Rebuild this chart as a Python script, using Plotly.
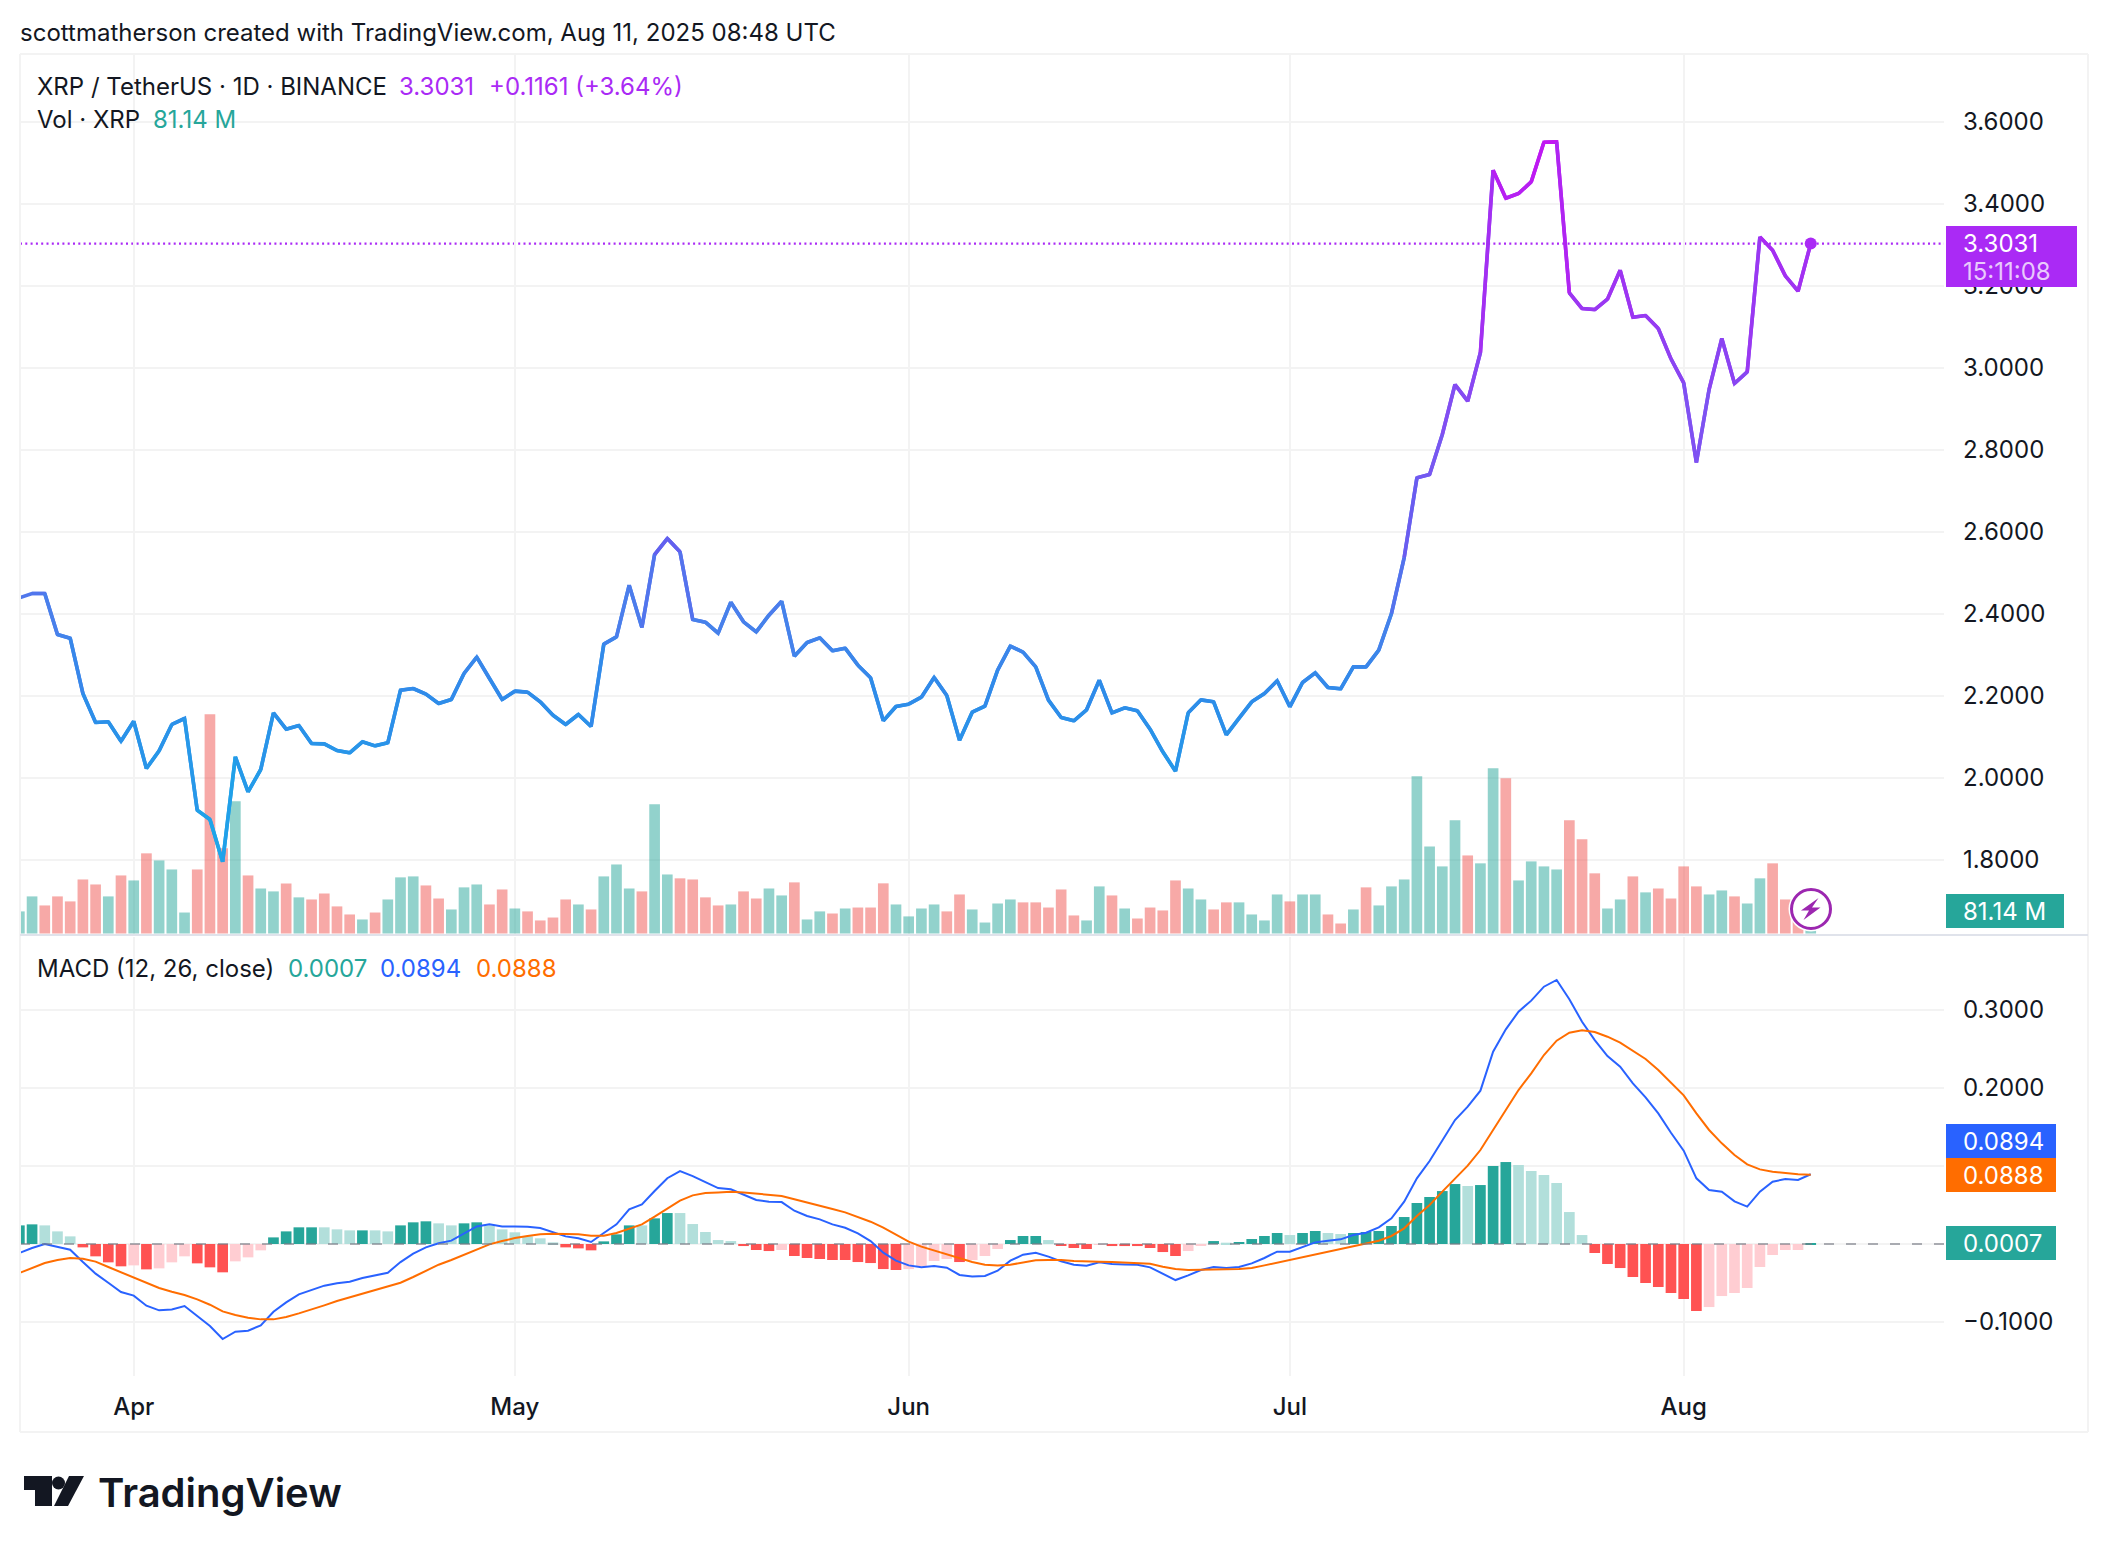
import numpy as np
import pandas as pd
import plotly.graph_objects as go

W = 2108
H = 1552
FONT = "Inter"
INK = "#131722"
GRID = "#f3f3f3"
TEAL = "#26a69a"
PURPLE = "#aa2af5"
BLUE = "#2962ff"
ORANGE = "#ff6d00"

dates = pd.date_range("2025-03-23", "2025-08-11")

# daily close, one row per month
close = [
    2.439, 2.4496, 2.4496, 2.3496, 2.3407, 2.2057, 2.135, 2.1366, 2.0894,
    2.1382, 2.0228, 2.0659, 2.1301, 2.1447, 1.9211, 1.8984, 1.7951, 2.0512, 1.9659,
    2.0203, 2.1585, 2.1187, 2.1276, 2.0837, 2.0829, 2.0667, 2.061, 2.0878, 2.078,
    2.0854, 2.2138, 2.2179, 2.2041, 2.1813, 2.1911, 2.2545, 2.2943, 2.2423, 2.1911,
    2.2114, 2.209, 2.1854, 2.1528, 2.1301, 2.1545, 2.1252, 2.326, 2.3439, 2.4699,
    2.3667, 2.5447, 2.5837, 2.5512, 2.3862, 2.3797, 2.3528, 2.4285, 2.3805, 2.3561,
    2.3967, 2.4309, 2.2967, 2.3301, 2.3415, 2.3098, 2.3163, 2.2748, 2.2439, 2.139,
    2.174,
    2.1797, 2.1967, 2.2447, 2.2008, 2.0919, 2.1602, 2.1748, 2.2626, 2.3211, 2.3065,
    2.2707, 2.1894, 2.1472, 2.139, 2.1659, 2.2382, 2.1585, 2.1707, 2.1634, 2.1187,
    2.0634, 2.0163, 2.1585, 2.1902, 2.1854, 2.1049, 2.1455, 2.1854, 2.2057, 2.2366,
    2.1732, 2.2325, 2.2561, 2.2203, 2.2171, 2.2707, 2.2707, 2.3114, 2.4008, 2.5373,
    2.7317, 2.7398, 2.8374, 2.9593, 2.9187, 3.0374, 3.4821, 3.4138, 3.4252, 3.4537,
    3.5504, 3.5512, 3.1829, 3.1447, 3.1423, 3.1675, 3.2382, 3.1236, 3.1276, 3.0959,
    3.022,
    2.9634, 2.7691, 2.9472, 3.0715, 2.9618, 2.9902, 3.3195, 3.287, 3.2244, 3.187, 3.3031,
]

# volume in millions
volume = [
    137, 230, 174, 230, 199, 335, 304, 230, 360,
    329, 497, 453, 397, 130, 397, 1360, 528, 820, 360,
    279, 261, 310, 224, 211, 248, 168, 118, 87, 130,
    211, 348, 354, 298, 217, 149, 286, 304, 180, 273,
    155, 137, 81, 99, 211, 180, 149, 354, 428, 279,
    261, 801, 366, 342, 335, 224, 174, 180, 261, 217,
    279, 236, 317, 87, 137, 124, 155, 161, 161, 311,
    180,
    106, 155, 180, 137, 242, 149, 68, 186, 211, 193,
    193, 161, 273, 112, 81, 292, 236, 155, 93, 161,
    143, 329, 279, 211, 149, 193, 193, 118, 81, 242,
    199, 242, 242, 118, 62, 149, 286, 174, 292, 335,
    975, 540, 416, 702, 484, 435, 1025, 963, 329, 447,
    416, 397, 702, 584, 373, 155, 211, 354, 255, 279,
    217,
    416, 292, 242, 267, 230, 186, 342, 435, 211, 120, 81.14,
]
volume_dir = (
    "TTRRRRRTR"
    "TRTTTRRRTRTTRTRRRRTRTTTRRTTTRR"
    "TRRRRTRTTTRTTRRRRTRRTTRTTRTRRRT"
    "TTTRRTTTTRRRRRTTRTRRRRTTRRTTTT"
    "RTTRRTRTTTTTTTRTTRTTTTRRRTTRTRR"
    "RRTTRTTRRRT"
)

macd = [
    -0.0115, -0.0051, 0.0, -0.0034, -0.0073, -0.0231, -0.038, -0.0496, -0.0615,
    -0.0662, -0.0791, -0.085, -0.0838, -0.0795, -0.0923, -0.1051, -0.1218, -0.1124, -0.1111,
    -0.1043, -0.0868, -0.0748, -0.0645, -0.059, -0.0534, -0.0504, -0.0483, -0.0436, -0.0402,
    -0.0368, -0.0231, -0.0124, -0.0043, 0.0009, 0.0043, 0.0132, 0.0226, 0.0252, 0.0226,
    0.0226, 0.0222, 0.0205, 0.0154, 0.0098, 0.0073, 0.0026, 0.0141, 0.0252, 0.0444,
    0.0509, 0.0679, 0.0844, 0.0936, 0.087, 0.0793, 0.0717, 0.0702, 0.0628, 0.0564,
    0.0543, 0.0538, 0.0427, 0.0359, 0.0316, 0.0252, 0.0209, 0.0137, 0.0038, -0.0111,
    -0.0214,
    -0.0274, -0.0299, -0.0282, -0.0303, -0.0397, -0.0415, -0.041, -0.0342, -0.0214, -0.0137,
    -0.0111, -0.0162, -0.0222, -0.0265, -0.0278, -0.0235, -0.0256, -0.0261, -0.0265, -0.0299,
    -0.0376, -0.0462, -0.0402, -0.0333, -0.0295, -0.0308, -0.0295, -0.0248, -0.0179, -0.0098,
    -0.0098, -0.0034, 0.0021, 0.0043, 0.006, 0.0115, 0.0145, 0.0214, 0.0329, 0.0543,
    0.0842, 0.1064, 0.1321, 0.159, 0.1761, 0.1966, 0.2466, 0.2752, 0.2979, 0.312,
    0.3299, 0.3385, 0.3137, 0.285, 0.2615, 0.241, 0.2274, 0.206, 0.188, 0.1675,
    0.1427,
    0.1197, 0.0842, 0.0692, 0.0671, 0.0547, 0.0479, 0.0671, 0.0799, 0.0833, 0.0821, 0.0894,
]

signal = [
    -0.0372, -0.0303, -0.0244, -0.0205, -0.0179, -0.0188, -0.0226, -0.0295, -0.0363,
    -0.0423, -0.0496, -0.0564, -0.0611, -0.0654, -0.0709, -0.0778, -0.0863, -0.091, -0.0944,
    -0.0966, -0.0966, -0.0936, -0.0889, -0.0842, -0.0786, -0.0731, -0.0684, -0.0641, -0.0594,
    -0.0551, -0.0496, -0.0423, -0.0342, -0.0265, -0.0205, -0.0137, -0.0064, -0.0004, 0.0038,
    0.0077, 0.0103, 0.0124, 0.0132, 0.0132, 0.0124, 0.0107, 0.0107, 0.0141, 0.0197,
    0.0252, 0.035, 0.0457, 0.0556, 0.0624, 0.0654, 0.0662, 0.0671, 0.0662, 0.0645,
    0.0628, 0.0615, 0.0573, 0.0534, 0.0496, 0.0449, 0.0406, 0.035, 0.0286, 0.0209,
    0.0115,
    0.003, -0.0034, -0.0085, -0.0132, -0.0179, -0.0231, -0.0265, -0.0274, -0.0265, -0.0235,
    -0.0209, -0.0205, -0.0205, -0.0218, -0.0226, -0.0226, -0.0231, -0.0235, -0.0239, -0.0252,
    -0.0291, -0.0321, -0.0333, -0.0333, -0.0325, -0.0325, -0.0321, -0.0308, -0.0274, -0.0239,
    -0.0209, -0.0175, -0.0137, -0.0103, -0.0068, -0.0034, 0.0004, 0.0043, 0.0103, 0.0201,
    0.0359, 0.05, 0.0671, 0.0842, 0.1004, 0.1205, 0.147, 0.1718, 0.1974, 0.2188,
    0.2423, 0.2607, 0.2709, 0.2739, 0.2718, 0.2658, 0.2581, 0.2479, 0.2372, 0.2231,
    0.2068,
    0.1906, 0.1675, 0.1462, 0.1291, 0.1141, 0.1021, 0.0957, 0.0927, 0.091, 0.0893, 0.0888,
]

hist = [
    0.0239, 0.0252, 0.0239, 0.0162, 0.0098, -0.0043, -0.0158, -0.0235, -0.0286,
    -0.0274, -0.0325, -0.0312, -0.0235, -0.0158, -0.0248, -0.0299, -0.0363, -0.0222, -0.0171,
    -0.0081, 0.0085, 0.0162, 0.0214, 0.0214, 0.0214, 0.0188, 0.0175, 0.0175, 0.0175,
    0.0162, 0.0239, 0.0278, 0.0291, 0.0265, 0.0239, 0.0265, 0.0278, 0.0239, 0.0188,
    0.015, 0.0098, 0.0073, 0.0021, -0.0043, -0.0056, -0.0081, 0.0034, 0.0124, 0.0239,
    0.0239, 0.0329, 0.0397, 0.0397, 0.0256, 0.0154, 0.0051, 0.0038, -0.0026, -0.0077,
    -0.009, -0.0077, -0.0154, -0.0179, -0.0192, -0.0205, -0.0205, -0.0231, -0.0244, -0.0321,
    -0.0333,
    -0.0321, -0.0282, -0.0218, -0.0192, -0.0231, -0.0205, -0.0154, -0.0064, 0.0051, 0.0103,
    0.0103, 0.0051, -0.0013, -0.0051, -0.0064, -0.0009, -0.0026, -0.0026, -0.0026, -0.0051,
    -0.0103, -0.0154, -0.009, -0.0013, 0.0038, 0.0017, 0.0026, 0.0064, 0.0103, 0.0141,
    0.0115, 0.0141, 0.0167, 0.0141, 0.0128, 0.0141, 0.0154, 0.0167, 0.0231, 0.0346,
    0.0526, 0.0603, 0.0679, 0.0769, 0.0744, 0.0756, 0.1, 0.1051, 0.1013, 0.0936,
    0.0885, 0.0782, 0.041, 0.0115, -0.0115, -0.0256, -0.0308, -0.0423, -0.05, -0.0551,
    -0.0628,
    -0.0705, -0.0859, -0.0808, -0.0667, -0.0628, -0.0564, -0.0295, -0.0141, -0.0077, -0.0077, 0.0007,
]
# G growing, L falling above zero, R falling, P rising below zero
hist_kind = (
    "GGLLLRRRR"
    "PRPPPRRRPPPGGGGLLLGLLGGGLLGGLL"
    "LLLLRRRGGGLGGLLLLLRRRPRRRRRRRRR"
    "PPPPRPPPGGGLRRRPRRRRRRPPGLGGGG"
    "LGGLLGGGGGGGGGLGGGLLLLLLRRRRRRR"
    "RRPPPPPPPPG"
)

price_ticks = [1.8, 2.0, 2.2, 2.4, 2.6, 2.8, 3.0, 3.2, 3.4, 3.6]
macd_ticks = [-0.1, 0.0, 0.1, 0.2, 0.3]
# the 0 and 0.1 labels are replaced by the value tags
macd_tick_text = ["\u22120.1000", "", "", "0.2000", "0.3000"]

assert len(dates) == len(close) == len(volume) == len(volume_dir) == len(macd) == len(signal) == len(hist) == len(hist_kind)

VOL_COLORS = {"T": "rgba(38,166,154,0.5)", "R": "rgba(239,83,80,0.5)"}
HIST_COLORS = {"G": TEAL, "L": "#b2dfdb", "R": "#ff5252", "P": "#ffcdd2"}


def fx(px):
    return px / W


def fy(py):
    return 1 - py / H


# colour of the price line follows the price
grad_p = [1.8, 2.2, 2.4, 2.58, 2.8, 3.0, 3.3, 3.55]
grad_rgb = [(28, 169, 233), (47, 140, 234), (74, 128, 236), (101, 94, 240),
            (122, 88, 242), (139, 69, 242), (169, 44, 243), (195, 21, 242)]


def price_color(p):
    rgb = [int(np.interp(p, grad_p, [c[i] for c in grad_rgb])) for i in range(3)]
    return "rgb(%d,%d,%d)" % tuple(rgb)


fig = go.Figure()

fig.add_trace(go.Bar(x=dates, y=volume, marker=dict(color=[VOL_COLORS[k] for k in volume_dir], line_width=0),
                     xaxis="x", yaxis="y"))

for i in range(1, len(close)):
    fig.add_trace(go.Scatter(x=dates[i - 1:i + 2], y=close[i - 1:i + 2], mode="lines",
                             line=dict(color=price_color((close[i - 1] + close[i]) / 2), width=3.6),
                             xaxis="x", yaxis="y2"))

fig.add_trace(go.Scatter(x=dates[-1:], y=close[-1:], mode="markers", marker=dict(color=PURPLE, size=12),
                         xaxis="x", yaxis="y2"))

fig.add_trace(go.Bar(x=dates, y=hist, marker=dict(color=[HIST_COLORS[k] for k in hist_kind], line_width=0),
                     xaxis="x2", yaxis="y3"))
fig.add_trace(go.Scatter(x=dates, y=macd, mode="lines", line=dict(color=BLUE, width=2), xaxis="x2", yaxis="y3"))
fig.add_trace(go.Scatter(x=dates, y=signal, mode="lines", line=dict(color=ORANGE, width=2), xaxis="x2", yaxis="y3"))

x_common = dict(
    domain=[fx(20), fx(1944)], range=["2025-03-23 01:12", "2025-08-21 11:45"], type="date",
    dtick="M1", tick0="2025-04-01", tickformat="%b", showgrid=True, gridcolor=GRID, gridwidth=2,
    zeroline=False, showline=False, ticks="",
)

fig.update_layout(
    width=W, height=H, margin=dict(l=0, r=0, t=0, b=0), paper_bgcolor="white", plot_bgcolor="white",
    showlegend=False, bargap=0.16, barmode="overlay", font=dict(family=FONT, color=INK, size=24),
    xaxis=dict(anchor="y", showticklabels=False, **x_common),
    xaxis2=dict(anchor="y3", matches="x", showticklabels=True, ticklabelstandoff=14,
                tickfont=dict(size=24, color=INK, family=FONT, weight=500), **x_common),
    # volume sits on the main axis so the price overlay is painted above it
    yaxis=dict(domain=[fy(935), fy(54)], range=[-9.3, 5453], visible=False, showgrid=False, zeroline=False, fixedrange=True),
    yaxis2=dict(overlaying="y", anchor="x", side="right", range=[1.6166, 3.7656], tickvals=price_ticks, tickformat=".4f",
                showgrid=True, gridcolor=GRID, gridwidth=2, zeroline=False, ticks="", ticklabelstandoff=18,
                tickfont=dict(size=24, color=INK, family=FONT)),
    yaxis3=dict(domain=[fy(1376), fy(937)], anchor="x2", side="right", range=[-0.1692, 0.3936], tickvals=macd_ticks,
                ticktext=macd_tick_text, showgrid=True, gridcolor=GRID, gridwidth=2, zeroline=False, ticks="", ticklabelstandoff=18,
                tickfont=dict(size=24, color=INK, family=FONT)),
)

# last price and zero lines
fig.add_shape(type="line", xref="x domain", yref="y2", x0=0, x1=1, y0=close[-1], y1=close[-1],
              line=dict(color=PURPLE, width=2.2, dash="2px,3.3px"), layer="below")
fig.add_shape(type="line", xref="x2 domain", yref="y3", x0=0, x1=1, y0=0, y1=0,
              line=dict(color="rgba(120,123,134,0.6)", width=2, dash="10px,12px"), layer="above")


def paper_line(x0, y0, x1, y1, color, width=2):
    fig.add_shape(type="line", xref="paper", yref="paper", x0=fx(x0), x1=fx(x1), y0=fy(y0), y1=fy(y1),
                  line=dict(color=color, width=width), layer="above")


# chart frame and pane separator
paper_line(20, 54, 2088, 54, "#f3f3f3")
paper_line(20, 54, 20, 1432, "#f3f3f3")
paper_line(2088, 54, 2088, 1432, "#f3f3f3")
paper_line(20, 1432, 2088, 1432, "#f3f3f3")
paper_line(20, 935, 2088, 935, "#e0e3eb")


def tag(x1, y0, y1, color):
    fig.add_shape(type="rect", xref="paper", yref="paper", x0=fx(1946), x1=fx(x1), y0=fy(y0), y1=fy(y1),
                  fillcolor=color, line_width=0, layer="above")


def label(x, y, text, color=INK, size=24, weight=400):
    fig.add_annotation(xref="paper", yref="paper", x=fx(x), y=fy(y), text=text, showarrow=False, xanchor="left",
                       yanchor="middle", borderpad=0, font=dict(family=FONT, size=size, color=color, weight=weight))


tag(2077, 226, 287, PURPLE)
tag(2064, 894, 928, TEAL)
tag(2056, 1124, 1158, BLUE)
tag(2056, 1158, 1192, ORANGE)
tag(2056, 1226, 1260, TEAL)

label(1962, 243, "3.3031", "white")
label(1962, 271, "15:11:08", "rgba(255,255,255,0.75)")
label(1962, 911, "81.14 M", "white")
label(1962, 1141, "0.0894", "white")
label(1962, 1175, "0.0888", "white")
label(1962, 1243, "0.0007", "white")

label(19, 32, "scottmatherson created with TradingView.com, Aug 11, 2025 08:48 UTC")
label(36, 86, "XRP / TetherUS · 1D · BINANCE")
label(398, 86, "3.3031", PURPLE)
label(488, 86, "+0.1161 (+3.64%)", PURPLE)
label(36, 120, "Vol · XRP")
label(152, 120, "81.14 M", TEAL)
label(36, 968, "MACD (12, 26, close)")
label(287, 968, "0.0007", TEAL)
label(379, 968, "0.0894", BLUE)
label(475, 968, "0.0888", ORANGE)


def paper_path(points, color):
    path = "M " + " L ".join("%.5f %.5f" % (fx(a), fy(b)) for a, b in points) + " Z"
    fig.add_shape(type="path", xref="paper", yref="paper", path=path, fillcolor=color, line_width=0, layer="above")


def paper_circle(cx, cy, r, fill, line_color=None, line_width=0):
    fig.add_shape(type="circle", xref="paper", yref="paper", x0=fx(cx - r), x1=fx(cx + r), y0=fy(cy + r), y1=fy(cy - r),
                  fillcolor=fill, line=dict(color=line_color, width=line_width), layer="above")


# lightning badge over the last volume bars
paper_circle(1811, 909, 22.5, "white")
paper_circle(1811, 909, 19.5, "white", "#9c27b0", 3)
paper_path([(1818.5, 898), (1801, 910.5), (1809, 910.5), (1803.5, 920), (1820.5, 907.5), (1812, 907.5)], "#9c27b0")

# TradingView logo
LOGO = "#131722"
paper_path([(24, 1476), (52, 1476), (52, 1506), (35, 1506), (35, 1490), (24, 1490)], LOGO)
paper_circle(58.5, 1483, 6.5, LOGO)
paper_path([(69, 1476), (84, 1476), (68, 1506), (54, 1506)], LOGO)
label(97, 1492, "TradingView", LOGO, 40, 600)

fig.write_html("out.html", config={"displayModeBar": False}, post_script="document.body.style.margin='0'")
